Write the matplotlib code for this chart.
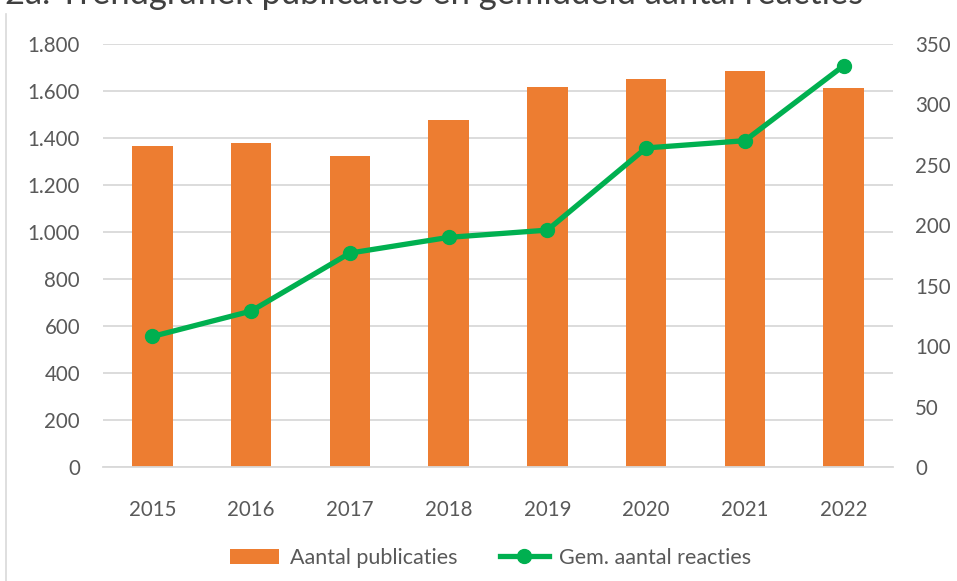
import matplotlib
matplotlib.use("Agg")
import matplotlib.pyplot as plt
from matplotlib.lines import Line2D
from matplotlib.patches import Patch
from matplotlib.ticker import FuncFormatter

years = ["2015", "2016", "2017", "2018", "2019", "2020", "2021", "2022"]
publicaties = [1365, 1377, 1322, 1475, 1616, 1650, 1684, 1611]
reacties = [108, 129, 177, 190, 196, 264, 270, 332]
left_ticks = [0, 200, 400, 600, 800, 1000, 1200, 1400, 1600, 1800]
right_ticks = [0, 50, 100, 150, 200, 250, 300, 350]

plt.rcParams['font.family'] = ['Lato', 'DejaVu Sans']
W, H = 957, 581
fig = plt.figure(figsize=(W / 100, H / 100), dpi=100)
fig.patch.set_facecolor('white')

ax = fig.add_axes([103 / W, 1 - 467 / H, 790 / W, (467 - 44) / H])
ax2 = ax.twinx()

orange = '#ED7D31'
green = '#00B050'
tc = '#595959'

x = list(range(len(years)))
ax.bar(x, publicaties, width=0.41, color=orange, zorder=2)
ax.set_xlim(-0.5, len(years) - 0.5)
ax.set_ylim(0, 1800)
ax.set_yticks(left_ticks)
ax.yaxis.set_major_formatter(FuncFormatter(lambda v, p: f"{int(v):,}".replace(",", ".")))
ax.grid(axis='y', color='#d9d9d9', linewidth=1.3, zorder=0)
ax.set_axisbelow(True)
ax.set_xticks(x)
ax.set_xticklabels(years)

ax2.plot(x, reacties, color=green, linewidth=3.8, marker='o', markersize=10, zorder=3)
ax2.set_ylim(0, 350)
ax2.set_yticks(right_ticks)

for a in (ax, ax2):
    for s in a.spines.values():
        s.set_visible(False)
    a.tick_params(length=0, labelsize=14.8, labelcolor=tc)
ax.spines['bottom'].set_visible(True)
ax.spines['bottom'].set_color('#d9d9d9')
ax.spines['bottom'].set_linewidth(1.3)
ax.tick_params(axis='y', pad=16.5)
ax.tick_params(axis='x', pad=24)
ax2.tick_params(axis='y', pad=16)

# title (partially cut at top)
fig.text(863 / W, 1 - 4 / H, "2a. Trendgrafiek publicaties en gemiddeld aantal reacties",
         ha='right', va='baseline', fontsize=24.8, color='#404040')

# chart border left
fig.add_artist(Line2D([5.5 / W, 5.5 / W], [0, 1 - 14 / H], transform=fig.transFigure,
                      color='#d9d9d9', linewidth=1.2))

handles = [Patch(facecolor=orange, label='Aantal publicaties'),
           Line2D([0], [0], color=green, linewidth=3.8, marker='o', markersize=10,
                  label='Gem. aantal reacties')]
fig.legend(handles=handles, loc='center', bbox_to_anchor=(491 / W, 1 - 558 / H), ncol=2,
           frameon=False, fontsize=15.5, labelcolor=tc, handlelength=2.25, handleheight=0.7,
           handletextpad=0.5, columnspacing=2.0)

fig.savefig('out.png', dpi=100)
